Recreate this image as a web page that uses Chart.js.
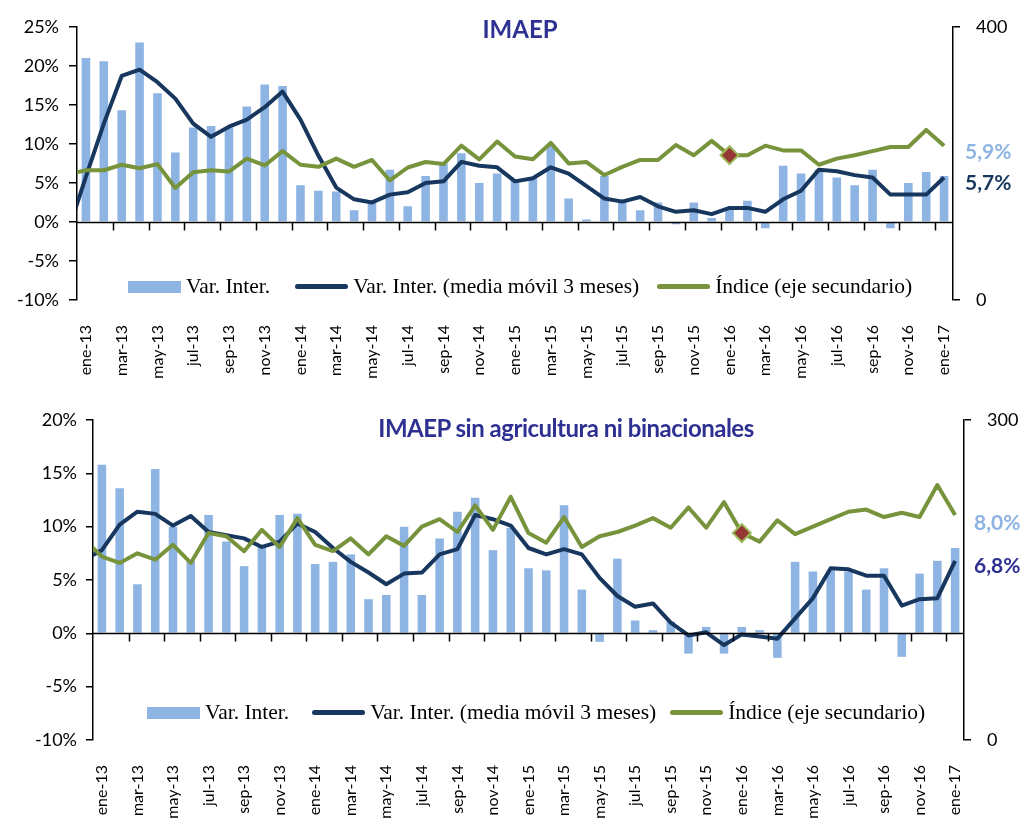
<!DOCTYPE html>
<html>
<head>
<meta charset="utf-8">
<script src="https://cdn.jsdelivr.net/npm/chart.js@4.4.1/dist/chart.umd.min.js"></script>
<style>
  body { margin: 0; background: #fff; }
  #wrap { position: relative; width: 1026px; height: 818px; overflow: hidden; }
  canvas { position: absolute; left: 0; }
  .title { position: absolute; font-family: Lato, sans-serif; font-weight: 700; color: #2E3192; white-space: nowrap; transform: translateX(-50%); }
  .legend { position: absolute; display: flex; align-items: center; font-family: "Liberation Serif", serif; font-size: 21.5px; color: #000; white-space: nowrap; }
  .legend .sw { display: inline-block; width: 53px; margin-right: 5px; }
  .legend .item { display: flex; align-items: center; }
</style>
</head>
<body>
<div id="wrap">
  <canvas id="cTop" width="1026" height="390" style="top:0"></canvas>
  <canvas id="cBot" width="1026" height="428" style="top:390px"></canvas>
  <div class="title" style="left:520px;top:14px;font-size:24px">IMAEP</div>
  <div class="title" style="left:566px;top:413px;font-size:24px;letter-spacing:-0.5px">IMAEP sin agricultura ni binacionales</div>
  <div class="legend" id="legTop" style="left:128px;top:274px"></div>
  <div class="legend" id="legBot" style="left:147px;top:700px"></div>
</div>
<script>
/* ---------- data ---------- */
const months = ['ene-13','feb-13','mar-13','abr-13','may-13','jun-13','jul-13','ago-13','sep-13','oct-13','nov-13','dic-13',
  'ene-14','feb-14','mar-14','abr-14','may-14','jun-14','jul-14','ago-14','sep-14','oct-14','nov-14','dic-14',
  'ene-15','feb-15','mar-15','abr-15','may-15','jun-15','jul-15','ago-15','sep-15','oct-15','nov-15','dic-15',
  'ene-16','feb-16','mar-16','abr-16','may-16','jun-16','jul-16','ago-16','sep-16','oct-16','nov-16','dic-16','ene-17'];
const seriesNames = ['Var. Inter.', 'Var. Inter. (media móvil 3 meses)', 'Índice (eje secundario)'];
const markMonth = 'ene-16';

// IMAEP
const imaepVar = [21.0,20.6,14.3,23.0,16.5,8.9,12.1,12.3,12.1,14.8,17.6,17.4,
  4.7,4.0,3.9,1.5,2.6,6.7,2.0,5.9,7.5,8.8,5.0,6.2,
  5.4,5.6,10.0,3.0,0.3,5.9,2.9,1.5,2.5,-0.3,2.5,0.5,
  1.8,2.7,-0.8,7.2,6.2,6.7,5.7,4.7,6.7,-0.8,5.0,6.4,5.9];
const imaepMM3Prev = -1.2;   // dic-12, only its segment shows at the left edge
const imaepMM3 = [5.8,12.6,18.7,19.5,17.9,15.8,12.6,10.9,12.2,13.1,14.7,16.7,
  13.1,8.5,4.4,2.9,2.5,3.5,3.8,5.0,5.2,7.7,7.2,7.0,
  5.2,5.6,7.0,6.2,4.6,3.0,2.6,3.2,2.0,1.3,1.5,1.0,
  1.8,1.8,1.3,2.9,4.0,6.7,6.5,6.0,5.7,3.5,3.5,3.5,5.7];
const imaepIdxPrev = 184;
const imaepIdx = [190,190,198,193,199,164,187,190,188,207,197,218,
  198,195,207,195,205,175,194,202,199,226,206,232,
  210,206,230,200,202,183,195,205,205,227,212,233,
  212,212,226,219,219,198,207,212,218,224,224,249,226];

// IMAEP sin agricultura ni binacionales
const sinVar = [15.8,13.6,4.6,15.4,10.0,6.8,11.1,8.6,6.3,8.2,11.1,11.2,
  6.5,6.7,7.4,3.2,3.6,10.0,3.6,8.9,11.4,12.7,7.8,9.9,
  6.1,5.9,12.0,4.1,-0.8,7.0,1.2,0.3,1.1,-1.9,0.6,-1.9,
  0.6,0.3,-2.3,6.7,5.8,5.9,5.8,4.1,6.1,-2.2,5.6,6.8,8.0];
const sinMM3Prev = 6.9;
const sinMM3 = [7.8,10.2,11.4,11.2,10.1,11.0,9.5,9.2,8.9,8.1,8.6,10.3,
  9.5,8.0,6.7,5.7,4.6,5.6,5.7,7.4,7.9,11.1,10.7,10.1,
  8.0,7.4,7.9,7.4,5.2,3.5,2.5,2.8,1.0,-0.2,0.1,-1.1,
  -0.1,-0.3,-0.5,1.4,3.3,6.1,6.0,5.4,5.4,2.6,3.2,3.3,6.8];
const sinIdxPrev = 188;
const sinIdx = [172,166,175,169,183,166,194,191,177,197,181,208,
  183,177,189,174,191,182,200,207,195,220,197,228,
  194,185,209,181,191,195,201,208,199,218,199,223,
  194,186,206,193,200,207,214,216,209,213,209,239,211];

const pctTicks = { top: [-10, 25], bot: [-10, 20] };
const idxTicks = { top: [0, 400], bot: [0, 300] };

/* ---------- colours ---------- */
const C_BAR = '#8DB4E2', C_NAVY = '#17375E', C_GREEN = '#77933C', C_MARK = '#953735', C_MARK_B = '#9BBB59';
const TICK_FONT = { family: 'Lato', size: 18 };

const fmtPct = v => v.toFixed(1).replace('.', ',') + '%';
const asPoints = (prev, arr) => [{ x: -1, y: prev }].concat(arr.map((v, i) => ({ x: i, y: v })));
const markIndex = months.indexOf(markMonth);

/* x axis line at 0 with a tick every second month */
const zeroAxis = {
  id: 'zeroAxis',
  afterDatasetsDraw(chart) {
    const { ctx, chartArea, scales: { x, y } } = chart;
    const y0 = Math.round(y.getPixelForValue(0)) + 0.5;
    ctx.save();
    ctx.strokeStyle = '#000'; ctx.lineWidth = 1.5;
    ctx.beginPath();
    ctx.moveTo(chartArea.left, y0); ctx.lineTo(chartArea.right, y0);
    for (let i = 2; i < months.length; i += 2) {
      const px = Math.round((x.getPixelForValue(i - 1) + x.getPixelForValue(i)) / 2) + 0.5;
      ctx.moveTo(px, y0); ctx.lineTo(px, y0 + 8);
    }
    ctx.stroke();
    ctx.restore();
  }
};

/* last values written right of the chart */
const endLabels = {
  id: 'endLabels',
  afterDraw(chart, args, opts) {
    const { ctx, chartArea } = chart, y = chart.scales.y;
    ctx.save();
    ctx.font = 'bold 21px Lato';
    ctx.textBaseline = 'middle';
    opts.items.forEach(it => {
      ctx.fillStyle = it.color;
      ctx.fillText(fmtPct(it.value), chartArea.right + opts.dx, y.getPixelForValue(it.value) + it.dy);
    });
    ctx.restore();
  }
};

function makeChart(id, o) {
  return new Chart(document.getElementById(id), {
    data: {
      labels: months,
      datasets: [
        { type: 'bar', label: seriesNames[0], data: o.bars, backgroundColor: C_BAR, grouped: false,
          barPercentage: 0.48, categoryPercentage: 1, xAxisID: 'x', yAxisID: 'y', order: 3 },
        { type: 'line', label: seriesNames[1], data: asPoints(o.mm3Prev, o.mm3), borderColor: C_NAVY,
          borderWidth: 4, pointRadius: 0, tension: 0, clip: 0, borderJoinStyle: 'round',
          xAxisID: 'xl', yAxisID: 'y', order: 2 },
        { type: 'line', label: seriesNames[2], data: asPoints(o.idxPrev, o.idx), borderColor: C_GREEN,
          borderWidth: 4, tension: 0, clip: 0, borderJoinStyle: 'round',
          pointStyle: 'rectRot',
          pointRadius: c => (c.raw && c.raw.x === markIndex ? 9 : 0),
          pointBackgroundColor: C_MARK, pointBorderColor: C_MARK_B, pointBorderWidth: 2,
          xAxisID: 'xl', yAxisID: 'y2', order: 1 }
      ]
    },
    options: {
      responsive: false, devicePixelRatio: 1, animation: false,
      layout: { padding: { top: o.padTop, left: 0, right: 0, bottom: 0 } },
      plugins: { legend: { display: false }, tooltip: { enabled: false },
        endLabels: { dx: o.labelDx, items: o.endItems } },
      scales: {
        x: { type: 'category', offset: true,
          grid: { display: false }, border: { display: false },
          ticks: { autoSkip: false, minRotation: 90, maxRotation: 90, padding: 17,
            font: { family: 'Lato', size: 16 }, color: '#000',
            callback: (v, i) => (i % 2 === 0 ? months[i] : '') },
          afterFit: s => { s.height = o.xHeight; } },
        xl: { type: 'linear', display: false, min: -0.5, max: months.length - 0.5 },
        y: { position: 'left', min: o.pct[0], max: o.pct[1],
          ticks: { stepSize: 5, font: TICK_FONT, color: '#000', padding: o.yPad, callback: v => v + '%' },
          grid: { drawOnChartArea: false, color: '#000', tickLength: o.tickLen, lineWidth: 1.5 },
          border: { color: '#000', width: 1.5 },
          afterFit: s => { s.width = o.left; } },
        y2: { position: 'right', min: o.idxRange[0], max: o.idxRange[1],
          ticks: { stepSize: o.idxRange[1], font: TICK_FONT, color: '#000', padding: 16 },
          grid: { drawOnChartArea: false, color: '#000', tickLength: 7, lineWidth: 1.5 },
          border: { color: '#000', width: 1.5 },
          afterFit: s => { s.width = 1026 - o.right; } }
      }
    },
    plugins: [zeroAxis, endLabels]
  });
}

makeChart('cTop', {
  bars: imaepVar, mm3Prev: imaepMM3Prev, mm3: imaepMM3, idxPrev: imaepIdxPrev, idx: imaepIdx,
  pct: pctTicks.top, idxRange: idxTicks.top, padTop: 20, xHeight: 90, left: 77, right: 953,
  yPad: 10, tickLen: 8, labelDx: 12,
  endItems: [
    { value: imaepVar[imaepVar.length - 1], color: C_BAR, dy: -24 },
    { value: imaepMM3[imaepMM3.length - 1], color: C_NAVY, dy: 6 }
  ]
});

makeChart('cBot', {
  bars: sinVar, mm3Prev: sinMM3Prev, mm3: sinMM3, idxPrev: sinIdxPrev, idx: sinIdx,
  pct: pctTicks.bot, idxRange: idxTicks.bot, padTop: 30, xHeight: 78, left: 93, right: 964,
  yPad: 9, tickLen: 7, labelDx: 10,
  endItems: [
    { value: sinVar[sinVar.length - 1], color: C_BAR, dy: -25 },
    { value: sinMM3[sinMM3.length - 1], color: '#2E3192', dy: 5 }
  ]
});

/* html legends */
function buildLegend(id, gaps) {
  const el = document.getElementById(id);
  const swatches = [
    `background:${C_BAR};height:12px`,
    `background:${C_NAVY};height:5px;border-radius:3px`,
    `background:${C_GREEN};height:5px;border-radius:3px`
  ];
  el.innerHTML = seriesNames.map((n, i) =>
    `<span class="item" style="margin-right:${gaps[i] || 0}px"><span class="sw" style="${swatches[i]}"></span>${n}</span>`).join('');
}
buildLegend('legTop', [25, 18]);
buildLegend('legBot', [23, 14]);
</script>
</body>
</html>
